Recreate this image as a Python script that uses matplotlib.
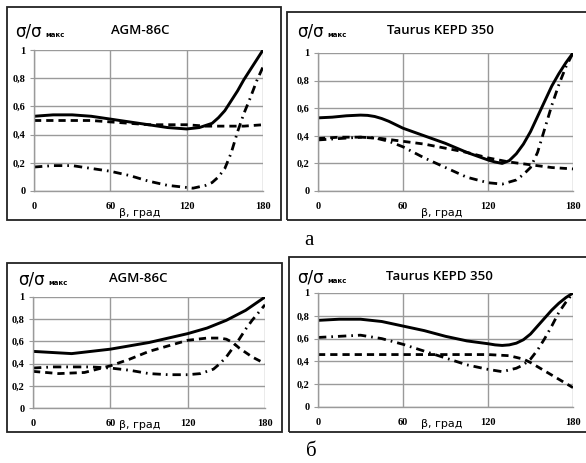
import matplotlib
matplotlib.use("Agg")
import matplotlib.pyplot as plt
from matplotlib.patches import Rectangle

W, H = 586, 463

# --- data (angle beta in degrees, sigma/sigma_max) ---
# а, AGM-86C
a1_solid_x = [0, 15, 30, 45, 60, 75, 90, 105, 120, 130, 140, 145, 150, 155, 160, 165, 170, 175, 180]
a1_solid_y = [0.53, 0.54, 0.54, 0.53, 0.51, 0.49, 0.47, 0.45, 0.44, 0.45, 0.48, 0.52, 0.57, 0.64, 0.71, 0.79, 0.86, 0.93, 1.0]
a1_dash_x = [0, 15, 30, 45, 60, 75, 90, 105, 120, 135, 150, 165, 180]
a1_dash_y = [0.50, 0.50, 0.50, 0.50, 0.49, 0.48, 0.47, 0.47, 0.47, 0.46, 0.46, 0.46, 0.47]
a1_dd_x = [0, 15, 30, 45, 60, 75, 90, 105, 115, 125, 135, 140, 145, 150, 155, 160, 165, 170, 175, 180]
a1_dd_y = [0.17, 0.18, 0.18, 0.16, 0.14, 0.11, 0.07, 0.04, 0.03, 0.02, 0.04, 0.06, 0.10, 0.16, 0.27, 0.42, 0.55, 0.66, 0.78, 0.88]

# а, Taurus KEPD 350
a2_solid_x = [0, 10, 20, 30, 35, 40, 45, 50, 55, 60, 75, 90, 105, 120, 125, 130, 135, 140, 145, 150, 155, 160, 165, 170, 175, 180]
a2_solid_y = [0.53, 0.535, 0.545, 0.55, 0.548, 0.54, 0.525, 0.505, 0.48, 0.455, 0.40, 0.345, 0.28, 0.225, 0.21, 0.20, 0.22, 0.27, 0.34, 0.43, 0.54, 0.65, 0.76, 0.85, 0.93, 1.0]
a2_dash_x = [0, 15, 30, 45, 60, 75, 90, 105, 120, 135, 150, 165, 180]
a2_dash_y = [0.38, 0.39, 0.39, 0.38, 0.36, 0.34, 0.31, 0.28, 0.24, 0.21, 0.19, 0.17, 0.16]
a2_dd_x = [0, 15, 30, 40, 50, 60, 75, 90, 105, 120, 130, 140, 145, 150, 155, 160, 165, 170, 175, 180]
a2_dd_y = [0.37, 0.38, 0.39, 0.385, 0.36, 0.32, 0.24, 0.17, 0.10, 0.06, 0.05, 0.08, 0.12, 0.17, 0.28, 0.45, 0.62, 0.77, 0.90, 1.0]

# б, AGM-86C
b1_solid_x = [0, 15, 30, 45, 60, 75, 90, 105, 120, 135, 150, 165, 180]
b1_solid_y = [0.51, 0.50, 0.49, 0.51, 0.53, 0.56, 0.59, 0.63, 0.67, 0.72, 0.79, 0.88, 1.0]
b1_dash_x = [0, 20, 40, 50, 60, 75, 90, 105, 120, 135, 145, 150, 155, 160, 170, 180]
b1_dash_y = [0.33, 0.31, 0.32, 0.35, 0.38, 0.44, 0.51, 0.56, 0.61, 0.63, 0.63, 0.62, 0.59, 0.54, 0.46, 0.40]
b1_dd_x = [0, 15, 30, 45, 60, 75, 90, 105, 120, 130, 140, 145, 150, 155, 160, 165, 170, 175, 180]
b1_dd_y = [0.36, 0.37, 0.37, 0.37, 0.36, 0.34, 0.31, 0.30, 0.30, 0.31, 0.35, 0.40, 0.46, 0.54, 0.62, 0.71, 0.79, 0.86, 0.93]

# б, Taurus KEPD 350
b2_solid_x = [0, 15, 30, 45, 60, 75, 90, 105, 120, 125, 130, 135, 140, 145, 150, 155, 160, 165, 170, 175, 180]
b2_solid_y = [0.76, 0.77, 0.77, 0.75, 0.71, 0.67, 0.62, 0.58, 0.555, 0.545, 0.54, 0.545, 0.56, 0.59, 0.64, 0.71, 0.78, 0.85, 0.91, 0.96, 1.0]
b2_dash_x = [0, 30, 60, 90, 120, 135, 145, 150, 165, 180]
b2_dash_y = [0.46, 0.46, 0.46, 0.46, 0.46, 0.45, 0.42, 0.39, 0.28, 0.17]
b2_dd_x = [0, 15, 30, 45, 60, 75, 90, 105, 120, 130, 140, 145, 150, 155, 160, 165, 170, 175, 180]
b2_dd_y = [0.61, 0.62, 0.63, 0.60, 0.55, 0.49, 0.43, 0.37, 0.33, 0.31, 0.34, 0.37, 0.42, 0.50, 0.60, 0.71, 0.83, 0.92, 1.0]

titles = ["AGM-86C", "Taurus KEPD 350", "AGM-86C", "Taurus KEPD 350"]
xticks = [0, 60, 120, 180]
yticks = [0, 0.2, 0.4, 0.6, 0.8, 1.0]
ytick_labels = ["0", "0,2", "0,4", "0,6", "0,8", "1"]

panels = [
    (a1_solid_x, a1_solid_y, a1_dash_x, a1_dash_y, a1_dd_x, a1_dd_y),
    (a2_solid_x, a2_solid_y, a2_dash_x, a2_dash_y, a2_dd_x, a2_dd_y),
    (b1_solid_x, b1_solid_y, b1_dash_x, b1_dash_y, b1_dd_x, b1_dd_y),
    (b2_solid_x, b2_solid_y, b2_dash_x, b2_dash_y, b2_dd_x, b2_dd_y),
]

# pixel layout: plot area (left, top, right, bottom), frame box, label positions
areas = [(34, 50, 263, 191), (318, 53, 573, 191), (33, 297, 265, 408), (318, 293, 573, 407)]
boxes = [(7, 7, 281, 220), (287, 12, 590, 220), (7, 263, 282, 432), (289, 257, 590, 432)]
sig_pos = [(15, 31), (297, 31), (18, 279), (297, 277)]
title_pos = [(140, 31), (440, 31), (138, 279), (439, 277)]
xlab_pos = [(140, 213), (442, 213), (140, 425), (442, 424)]

fig = plt.figure(figsize=(W / 100, H / 100), dpi=100)
fig.patch.set_facecolor("white")


def fx(x):
    return x / W


def fy(y):
    return 1 - y / H


grid_c = "#9a9a9a"
tick_font = dict(family="Liberation Serif", weight="bold", size=7.5)

for i, (sx, sy, dx, dy, ddx, ddy) in enumerate(panels):
    l, t, r, b = areas[i]
    ax = fig.add_axes([fx(l), fy(b), (r - l) / W, (b - t) / H])
    ax.plot(sx, sy, color="black", lw=2.1, ls="-", solid_joinstyle="round")
    ax.plot(dx, dy, color="black", lw=2.0, ls=(0, (2.6, 1.8)))
    ax.plot(ddx, ddy, color="black", lw=2.0, ls=(0, (3.0, 1.8, 0.6, 1.8)))
    ax.set_xlim(0, 180)
    ax.set_ylim(0, 1)
    ax.set_xticks(xticks)
    ax.set_yticks(yticks)
    ax.set_yticklabels(ytick_labels, fontdict=tick_font)
    ax.set_xticklabels([str(v) for v in xticks], fontdict=tick_font)
    ax.grid(True, color=grid_c, lw=1.0)
    for s in ["top", "right"]:
        ax.spines[s].set_visible(False)
    for s in ["left", "bottom"]:
        ax.spines[s].set_color(grid_c)
        ax.spines[s].set_linewidth(1.0)
    ax.tick_params(axis="y", length=3, color=grid_c, pad=3)
    ax.tick_params(axis="x", length=0, pad=8)
    ax.set_axisbelow(True)
    ax.patch.set_alpha(0)

    # frame around the panel
    bl, bt, br, bb = boxes[i]
    fig.add_artist(Rectangle((fx(bl), fy(bb)), (br - bl) / W, (bb - bt) / H,
                             fill=False, lw=1.3, ec="#222222", transform=fig.transFigure))

    x0, y0 = sig_pos[i]
    fig.text(fx(x0), fy(y0), "σ/σ", fontsize=12, family="DejaVu Sans", va="center", ha="left")
    fig.text(fx(x0 + 30), fy(y0 + 4), "макс", fontsize=5, family="DejaVu Sans", weight="bold",
             va="center", ha="left")
    tx, ty = title_pos[i]
    fig.text(fx(tx), fy(ty), titles[i], fontsize=9.5, family="Open Sans", weight="semibold",
             va="center", ha="center")
    lx, ly = xlab_pos[i]
    fig.text(fx(lx), fy(ly), "β, град", fontsize=8, family="DejaVu Sans", va="center", ha="center")

fig.text(fx(309), fy(240), "а", fontsize=15, family="Liberation Serif", va="center", ha="center")
fig.text(fx(311), fy(451), "б", fontsize=15, family="Liberation Serif", va="center", ha="center")

fig.savefig("out.png", dpi=100, facecolor="white")
